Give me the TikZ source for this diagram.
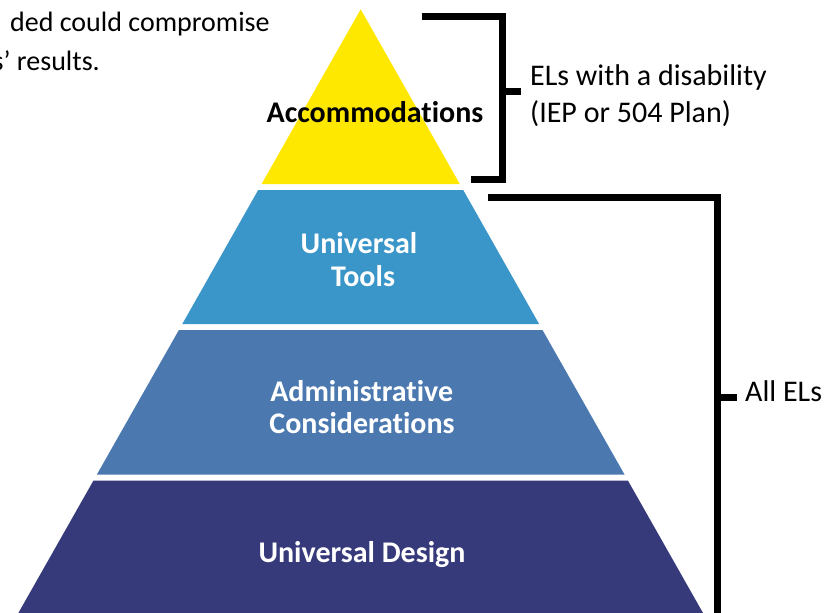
\documentclass[tikz,border=0pt]{standalone}
\usepackage{fontspec}
\setmainfont{Carlito}[RawFeature={-liga;-clig;-calt;-dlig}]
\definecolor{accyellow}{RGB}{255,232,0}
\definecolor{toolblue}{RGB}{58,150,200}
\definecolor{adminblue}{RGB}{74,120,175}
\definecolor{designnavy}{RGB}{54,57,122}
\newcommand{\tiX}{t\kern0pt i}
\tikzset{
  layer/.style={draw=none},
  plain/.style={inner sep=0pt, font=\fontsize{30}{37.7}\selectfont, text=black},
  note/.style={inner sep=0pt, font=\fontsize{28}{38}\selectfont, text=black},
  boldw/.style={inner sep=0pt, font=\fontsize{30}{33}\selectfont\bfseries, text=white},
  boldk/.style={inner sep=0pt, font=\fontsize{30}{33}\selectfont\bfseries, text=black},
  bracket/.style={line width=7pt, line join=miter, line cap=butt, black}
}
\begin{document}
\begin{tikzpicture}[x=1pt,y=-1pt]
\useasboundingbox (0,0) rectangle (838,613);
\clip (0,0) rectangle (838,613);
% pyramid layers
\fill[layer, accyellow] (360.7,9.3) -- (459.8,184) -- (261.6,184) -- cycle;
\fill[layer, toolblue] (258.2,190) -- (463.2,190) -- (539.1,324) -- (182.3,324) -- cycle;
\fill[layer, adminblue] (178.9,330) -- (542.5,330) -- (624.5,474.5) -- (96.9,474.5) -- cycle;
\fill[layer, designnavy] (93.5,480.5) -- (627.9,480.5) -- (707.0,620) -- (14.4,620) -- cycle;
% layer labels
\node[boldk, anchor=base] (acc) at (375,122.7) {Accommoda\tiX ons};
\node[boldw, anchor=base] (ut1) at (359,253.3) {Universal};
\node[boldw, anchor=base] (ut2) at (363,286.7) {Tools};
\node[boldw, anchor=base] (ad1) at (361.7,401.7) {Administra\tiX ve};
\node[boldw, anchor=base] (ad2) at (362,433.3) {Considera\tiX ons};
\node[boldw, anchor=base] (ud) at (362,562) {Universal Design};
% brackets
\coordinate (b1top) at (421.7,16.3);
\coordinate (b1bot) at (470.7,179);
\coordinate (b1mid) at (502,91.7);
\coordinate (b1tick) at (520.7,91.7);
\draw[bracket] (b1top) -| (b1mid) |- (b1bot);
\draw[bracket] (b1mid) -- (b1tick);
\coordinate (b2top) at (488.3,197.7);
\coordinate (b2bot) at (717.5,625);
\coordinate (b2mid) at (717.5,397);
\coordinate (b2tick) at (736.7,397);
\draw[bracket] (b2top) -| (b2bot);
\draw[bracket] (b2mid) -- (b2tick);
% side labels
\node[plain, anchor=base west] (el1) at (530,85) {ELs with a disability};
\node[plain, anchor=base west] (el2) at (530,122.7) {(IEP or 504 Plan)};
\node[plain, anchor=base west] (all) at (745,401.7) {All ELs};
% clipped note text
\node[note, anchor=base west] (tl1) at (10,31.7) {ded could compromise};
\node[note, anchor=base east] (tl2) at (100,70) {s’ results.};
\end{tikzpicture}
\end{document}
